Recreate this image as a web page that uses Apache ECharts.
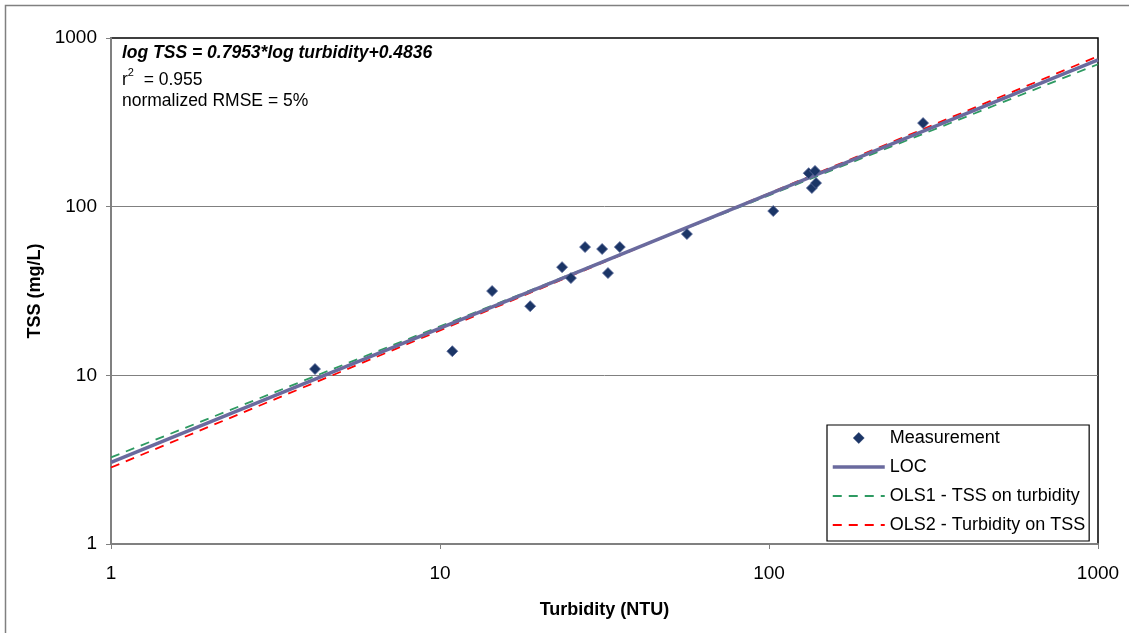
<!DOCTYPE html>
<html>
<head>
<meta charset="utf-8">
<script src="https://cdn.jsdelivr.net/npm/echarts@6/dist/echarts.min.js"></script>
<style>
html,body{margin:0;padding:0;background:#fff;}
#chart{width:1129px;height:633px;}
</style>
</head>
<body>
<div id="chart"></div>
<script>
var turbidity = [4.17, 10.9, 14.4, 18.8, 23.5, 25.0, 27.6, 31.1, 32.4, 35.2, 56.3, 103, 132, 138, 135, 139, 294];
var tss       = [10.9, 13.9, 31.6, 25.7, 43.8, 37.7, 57.6, 56.1, 40.4, 57.6, 68.8, 94.2, 158, 163, 129, 138, 313];

// Fitted lines, endpoints read at turbidity = 1 and 1000
var lineX = [1, 1000];
var locY  = [3.05, 741];
var ols1Y = [3.26, 699];
var ols2Y = [2.84, 780];

var seriesNames = ['Measurement', 'LOC', 'OLS1 - TSS on turbidity', 'OLS2 - Turbidity on TSS'];
var annotation = ['log TSS = 0.7953*log turbidity+0.4836', '2', '  = 0.955', 'normalized RMSE = 5%'];

function pairs(xs, ys) { return xs.map(function (x, i) { return [x, ys[i]]; }); }
function plain(v) { return String(Math.round(v)); }

var FONT = '"Liberation Sans", Arial, sans-serif';
var chart = echarts.init(document.getElementById('chart'), null, { renderer: 'canvas' });
var hideSym = { color: 'transparent', borderColor: 'transparent', borderWidth: 0, opacity: 0 };
// diamond legend icon inside a 52x11 box (corner points keep the box size)
var diamondIcon = 'path://M0,0L0,0M52,11L52,11M26,0L31.5,5.5L26,11L20.5,5.5Z';

chart.setOption({
  backgroundColor: '#ffffff',
  animation: false,
  textStyle: { fontFamily: FONT, color: '#000' },
  grid: {
    left: 111, right: 31, top: 38, bottom: 89,
    show: true, borderColor: '#000', borderWidth: 1.5, backgroundColor: 'transparent'
  },
  xAxis: {
    type: 'log', logBase: 10, min: 1, max: 1000,
    name: 'Turbidity (NTU)', nameLocation: 'middle', nameGap: 57,
    nameTextStyle: { fontFamily: FONT, fontSize: 18, fontWeight: 'bold', color: '#000' },
    axisLine: { show: true, lineStyle: { color: '#808080', width: 2 } },
    axisTick: { show: true, inside: false, length: 5, lineStyle: { color: '#808080', width: 1 } },
    axisLabel: { fontFamily: FONT, fontSize: 19, color: '#000', margin: 20, formatter: plain },
    splitLine: { show: false },
    minorTick: { show: false }
  },
  yAxis: {
    type: 'log', logBase: 10, min: 1, max: 1000,
    name: 'TSS (mg/L)', nameLocation: 'middle', nameGap: 48, nameRotate: 90,
    nameTextStyle: { fontFamily: FONT, fontSize: 18, fontWeight: 'bold', color: '#000' },
    axisLine: { show: true, lineStyle: { color: '#808080', width: 2 } },
    axisTick: { show: true, inside: false, length: 5, lineStyle: { color: '#808080', width: 1 } },
    axisLabel: { fontFamily: FONT, fontSize: 19, color: '#000', margin: 14, formatter: plain },
    splitLine: { show: true, showMinLine: false, showMaxLine: false, lineStyle: { color: '#808080', width: 1 } },
    minorTick: { show: false }
  },
  legend: {
    orient: 'vertical', left: 827, top: 425,
    backgroundColor: '#fff', borderColor: '#000', borderWidth: 1.2,
    padding: [3, 4, 6, 4],
    itemWidth: 52, itemHeight: 11, itemGap: 9,
    textStyle: { fontFamily: FONT, fontSize: 18, color: '#000', lineHeight: 20 },
    data: [
      { name: seriesNames[0], icon: diamondIcon,
        itemStyle: { color: '#1b3566', borderColor: '#1b3566', borderWidth: 0.5 } },
      { name: seriesNames[1], itemStyle: hideSym, lineStyle: { width: 3.5 } },
      { name: seriesNames[2], itemStyle: hideSym, lineStyle: { width: 2 } },
      { name: seriesNames[3], itemStyle: hideSym, lineStyle: { width: 2 } }
    ]
  },
  graphic: [
    { type: 'rect', silent: true, z: -10,
      shape: { x: 5.5, y: 5.5, width: 1300, height: 800 },
      style: { fill: 'none', stroke: '#808080', lineWidth: 1.5 } },
    { type: 'text', left: 122, top: 44, silent: true,
      style: { text: annotation[0], font: 'italic bold 17.5px ' + FONT, fill: '#000' } },
    { type: 'text', left: 122, top: 67, silent: true,
      style: {
        text: '{a|r}{s|' + annotation[1] + '}{a|' + annotation[2] + '}',
        rich: {
          a: { fontFamily: FONT, fontSize: 17.5, color: '#000', lineHeight: 22, verticalAlign: 'bottom' },
          s: { fontFamily: FONT, fontSize: 11, color: '#000', lineHeight: 22, verticalAlign: 'top' }
        }
      } },
    { type: 'text', left: 122, top: 92, silent: true,
      style: { text: annotation[3], font: '17.5px ' + FONT, fill: '#000' } }
  ],
  series: [
    {
      name: seriesNames[1], type: 'line', data: pairs(lineX, locY), symbol: 'none',
      lineStyle: { color: '#6a6a9e', width: 3.5 }, itemStyle: { color: '#6a6a9e' }, z: 3
    },
    {
      name: seriesNames[2], type: 'line', data: pairs(lineX, ols1Y), symbol: 'none',
      lineStyle: { color: '#2e9a62', width: 1.8, type: [9, 7] }, itemStyle: { color: '#2e9a62' }, z: 2
    },
    {
      name: seriesNames[3], type: 'line', data: pairs(lineX, ols2Y), symbol: 'none',
      lineStyle: { color: '#ff0000', width: 1.8, type: [9, 7] }, itemStyle: { color: '#ff0000' }, z: 2
    },
    {
      name: seriesNames[0], type: 'scatter', data: pairs(turbidity, tss),
      symbol: 'diamond', symbolSize: 11,
      itemStyle: { color: '#1b3566', borderColor: '#5a6a9a', borderWidth: 0.8, opacity: 1 }, z: 5
    }
  ]
});
</script>
</body>
</html>
